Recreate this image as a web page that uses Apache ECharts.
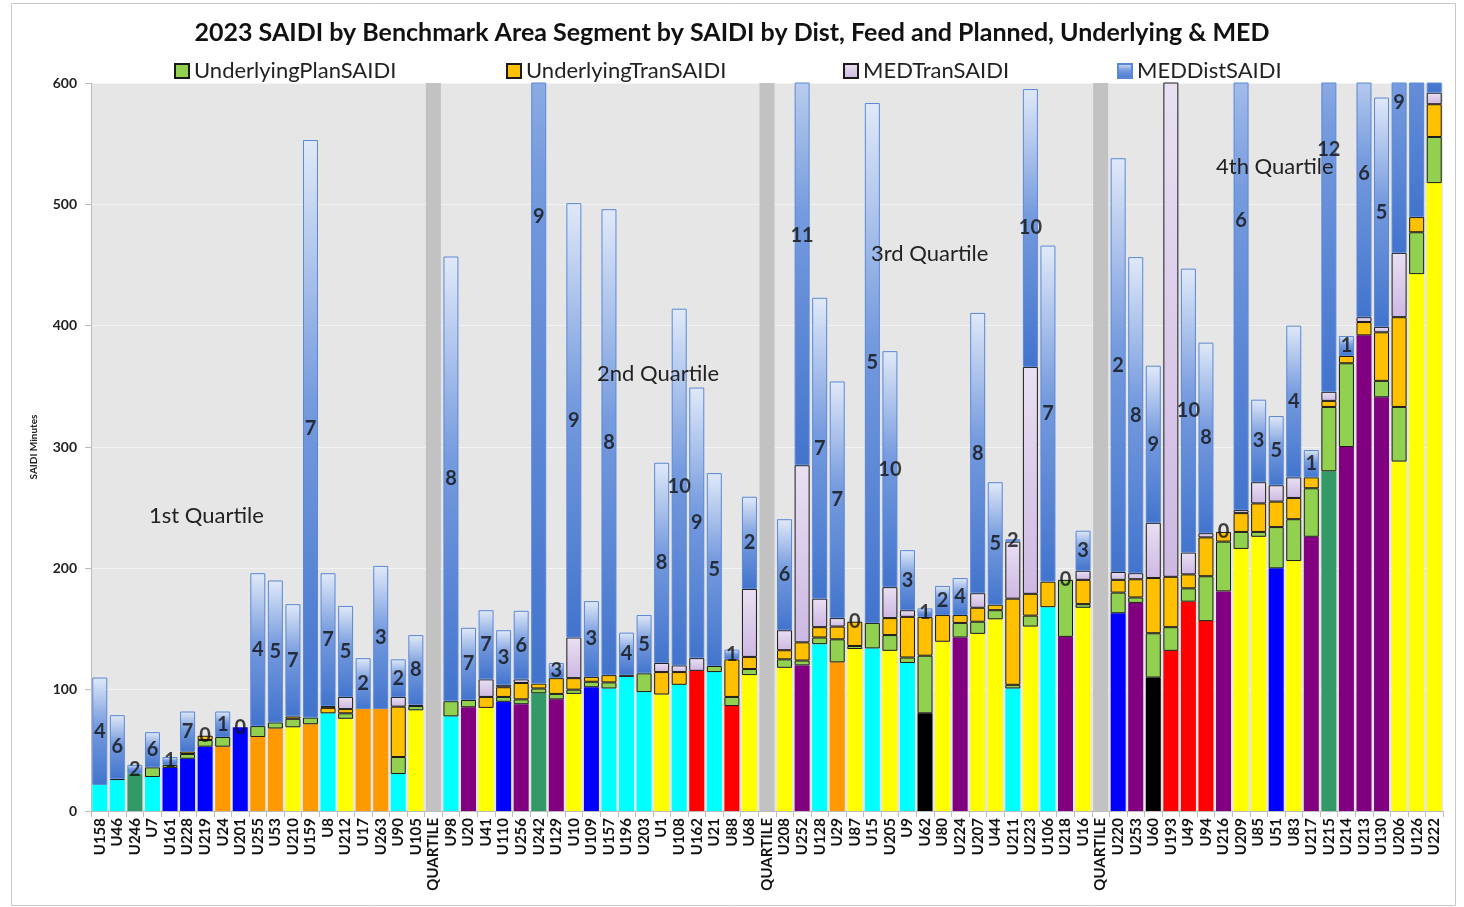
<!DOCTYPE html>
<html><head><meta charset="utf-8">
<script src="https://cdn.jsdelivr.net/npm/echarts@6/dist/echarts.min.js"></script>
<style>html,body{margin:0;padding:0;background:#fff}#c{width:1464px;height:907px}</style>
</head><body><div id="c"></div>
<script>
// ---- data ----
const categories = ['U158','U46','U246','U7','U161','U228','U219','U24','U201','U255','U53','U210','U159','U8','U212','U17','U263','U90','U105','QUARTILE',
'U98','U20','U41','U110','U256','U242','U129','U10','U109','U157','U196','U203','U1','U108','U162','U21','U88','U68','QUARTILE',
'U208','U252','U128','U29','U87','U15','U205','U9','U62','U80','U224','U207','U44','U211','U223','U106','U218','U16','QUARTILE',
'U220','U253','U60','U193','U49','U94','U216','U209','U85','U51','U83','U217','U215','U214','U213','U130','U206','U126','U222'];
// segment group of each area (drives base bar colour)
const segment = ['C','C','G','C','B','B','B','O','B','O','O','Y','O','C','Y','O','O','C','Y','-',
'C','P','Y','B','P','G','P','Y','B','C','C','C','Y','C','R','C','R','Y','-',
'Y','P','C','O','Y','C','Y','C','K','Y','P','Y','Y','C','Y','C','P','Y','-',
'B','P','K','R','R','R','P','Y','Y','B','Y','P','G','P','P','P','Y','Y','Y'];
const underlyingDistSAIDI = [21.5,25.5,31,28,35.5,43,53,53,69,61,68,69,71.5,80.5,76,84,84,30.5,83,0,
78,85.5,85,90,88,97,92,96.5,102,101,110.5,98,96,104,115.5,114.5,86.5,112,0,
118,120,137.5,122.5,133.5,134,132,122,80.5,139.5,143,146,158,101,152,168,143.5,167.5,0,
163,171.5,110,132,172.5,156.5,181,216,226,200,206,226,280,300,392,341,288,442.5,517.5];
const underlyingPlanSAIDI = [0,0,0,8,2.5,4,5.5,8,0,9,5,7,5.5,0,4.5,0,0,14,3.5,0,
12.5,6,0,4,4,4,4.5,3.5,4.5,5,0,15.5,0,0,0,5,7.5,5,0,
7,4,5.5,19,2.5,21,13,4.5,47.5,0,12,10,7.5,3,9,0,47,3,0,
17,4.5,36.5,19.5,11,37,41,14,4,34,34.5,40,53,69,0,13.5,45,34.5,38];
const underlyingTranSAIDI = [0,1,0,0,0,2,3.5,0,0,0,0,2,0,4.5,3.5,0,0,41.5,1,0,
0,0,9,8,13.5,4,13,9.5,4,6,1.5,0,18.5,10.5,0,0,31,10,0,
7.5,15,8.5,10.5,20,0,14,33.5,32,22,6.5,11.5,4.5,71,18,21,0,20,0,
10.5,15,45.5,41.5,11.5,32,8,15.5,23.5,21,17.5,9,5,6,11,40,74,12.5,27];
const medTranSAIDI = [0,0,0,0,0,0,0,0,0,0,0,0,0,1.5,10,0,0,8,0,0,
0,0,14.5,2,3,0,0,33.5,0,0,0,0,7.5,5.5,10.5,0,0,56,0,
16.5,146,23.5,7,0,0,25.5,5.5,0,0,0,12,0,47,187,0,0,7.5,0,
6.5,5,45.5,507,18,3.5,0,2.5,17.5,13.5,17,0,7.5,0,4,4.5,53,0,9.5];
const medDistSAIDI = [88.5,52.5,7,29,6.5,33,0,21,0,126,117,92.5,476,109.5,75,42,118,31,57.5,0,
366.5,59.5,57,45,56.5,770,12.5,358,62.5,384,35,48,165,294,223,159,8,76,0,
91.5,379,248,195,0,428.5,194.5,49.5,7,24,30.5,231,101,2,229,277,0,33,0,
341,260.5,129.5,100,234,157,0,478,68,57,125,22.5,398.5,16.5,236,189,247,300,150];
// MED day counts shown on the MEDDist segment
const medDayCount = [4,6,2,6,1,7,0,1,0,4,5,7,7,7,5,2,3,2,8,null,
8,7,7,3,6,9,3,9,3,8,4,5,8,10,9,5,1,2,null,
6,11,7,7,0,5,10,3,1,2,4,8,5,2,10,7,0,3,null,
2,8,9,null,10,8,0,6,3,5,4,1,12,1,6,5,9,null,null];
const yTicks = [0,100,200,300,400,500,600];
const quartileNotes = ['1st Quartile','2nd Quartile','3rd Quartile','4th Quartile'];

// ---- styles ----
const segColors = {C:'#00ffff',G:'#339966',B:'#0000ff',O:'#ff9900',Y:'#ffff00',P:'#800080',R:'#ff0000',K:'#000000','-':'#c0c0c0'};
const FONT = 'Lato';
const yMax = yTicks[yTicks.length-1];
const gStops = [[0,[224,233,248]],[0.45,[118,155,222]],[1,[66,116,205]]];
function colAt(f){
  for(let k=1;k<gStops.length;k++){
    const [o0,c0]=gStops[k-1],[o1,c1]=gStops[k];
    if(f<=o1){const t=(f-o0)/(o1-o0);return 'rgb('+c0.map((v,i)=>Math.round(v+(c1[i]-v)*t)).join(',')+')';}
  }
  return 'rgb('+gStops[gStops.length-1][1].join(',')+')';
}
function gradFrom(f){
  const stops=[{offset:0,color:colAt(f)}];
  gStops.forEach(([o])=>{ if(o>f && o<1) stops.push({offset:(o-f)/(1-f),color:colAt(o)}); });
  stops.push({offset:1,color:colAt(1)});
  return new echarts.graphic.LinearGradient(0,0,0,1,stops);
}
const nz = a => a.map(v => v ? v : '-');

const stackBelow = i => underlyingDistSAIDI[i]+underlyingPlanSAIDI[i]+underlyingTranSAIDI[i]+medTranSAIDI[i];
const medDistData = medDistSAIDI.map((v,i)=>{
  if(!v) return '-';
  const B = stackBelow(i), T = B+v;
  const visTop = Math.min(T,yMax);
  const f = T>B ? (T-visTop)/(T-B) : 0;
  return {value:v,itemStyle:{color:gradFrom(f)}};
});
const labelData = [];
medDayCount.forEach((c,i)=>{ if(c!==null && c!==undefined){ labelData.push({value:[i, stackBelow(i)+medDistSAIDI[i]/2], cnt:c}); } });

const BW = 15;
const segBorder = {borderColor:'#1a1a1a',borderWidth:1};
const chart = echarts.init(document.getElementById('c'),null,{renderer:'canvas'});
const legendBase = {top:60,padding:0,icon:'rect',itemWidth:14,itemHeight:14,textStyle:{fontFamily:FONT,fontSize:22,color:'#222'},itemGap:6};
chart.setOption({
  animation:false,
  backgroundColor:'#ffffff',
  title:{text:'2023 SAIDI by Benchmark Area Segment by SAIDI by Dist, Feed and Planned, Underlying & MED',left:'center',top:15,
    textStyle:{fontFamily:FONT,fontSize:25,fontWeight:'bold',color:'#111'}},
  legend:[
    Object.assign({data:['UnderlyingPlanSAIDI'],left:174},legendBase),
    Object.assign({data:['UnderlyingTranSAIDI'],left:506},legendBase),
    Object.assign({data:['MEDTranSAIDI'],left:843},legendBase),
    Object.assign({data:['MEDDistSAIDI'],left:1117},legendBase)
  ],
  grid:{left:91,right:21,top:83,bottom:96,show:true,backgroundColor:'#e6e6e6',borderWidth:0},
  xAxis:{type:'category',data:categories,
    axisLine:{lineStyle:{color:'#bcbcbc'}},
    axisTick:{show:true,length:6,lineStyle:{color:'#bcbcbc'}},
    axisLabel:{interval:0,rotate:90,margin:7,fontFamily:FONT,fontSize:15,fontWeight:'bold',color:'#111'}},
  yAxis:{type:'value',min:0,max:yMax,interval:100,
    name:'SAIDI Minutes',nameLocation:'middle',nameGap:52,nameRotate:90,
    nameTextStyle:{fontFamily:FONT,fontSize:10,fontWeight:'bold',color:'#222'},
    axisLine:{show:true,lineStyle:{color:'#bcbcbc'}},
    axisTick:{show:true,length:6,lineStyle:{color:'#bcbcbc'}},
    axisLabel:{fontFamily:FONT,fontSize:14,fontWeight:'bold',color:'#222',margin:14},
    splitLine:{lineStyle:{color:'#f3f3f3',width:1}}},
  graphic:[
    {type:'rect',shape:{x:11.5,y:3.5,width:1444,height:902},style:{fill:'none',stroke:'#c8c8c8',lineWidth:1},silent:true,z:-10},
    {type:'text',left:149,top:505,style:{text:quartileNotes[0],fontFamily:FONT,fontSize:22,fill:'#222'},z:50},
    {type:'text',left:597,top:363,style:{text:quartileNotes[1],fontFamily:FONT,fontSize:22,fill:'#222'},z:50},
    {type:'text',left:871,top:243,style:{text:quartileNotes[2],fontFamily:FONT,fontSize:22,fill:'#222'},z:50},
    {type:'text',left:1216,top:156,style:{text:quartileNotes[3],fontFamily:FONT,fontSize:22,fill:'#222'},z:50}
  ],
  series:[
    {name:'UnderlyingDistSAIDI',type:'bar',stack:'s',barWidth:BW,
      data:underlyingDistSAIDI.map((v,i)=>({value:v?v:'-',itemStyle:{color:segColors[segment[i]]}}))},
    {name:'Quartile',type:'bar',stack:'s',barWidth:BW,itemStyle:{color:'#c2c2c2'},
      data:categories.map(c=>c==='QUARTILE'?yMax:'-')},
    {name:'UnderlyingPlanSAIDI',type:'bar',stack:'s',barWidth:BW,itemStyle:Object.assign({color:'#92d050'},segBorder),data:nz(underlyingPlanSAIDI)},
    {name:'UnderlyingTranSAIDI',type:'bar',stack:'s',barWidth:BW,itemStyle:Object.assign({color:'#ffc000'},segBorder),data:nz(underlyingTranSAIDI)},
    {name:'MEDTranSAIDI',type:'bar',stack:'s',barWidth:BW,itemStyle:Object.assign({color:new echarts.graphic.LinearGradient(0,0,0,1,[{offset:0,color:'#e9e0f2'},{offset:1,color:'#cdb8e3'}])},segBorder),data:nz(medTranSAIDI)},
    {name:'MEDDistSAIDI',type:'bar',stack:'s',barWidth:BW,
      itemStyle:{color:gradFrom(0),borderColor:'#5a88d6',borderWidth:1},
      data:medDistData},
    {name:'MEDDays',type:'scatter',symbolSize:0,z:20,data:labelData,
      label:{show:true,position:'inside',formatter:p=>String(p.data.cnt),fontFamily:FONT,fontSize:20,fontWeight:'bold',color:'#111'}}
  ]
});
</script></body></html>
